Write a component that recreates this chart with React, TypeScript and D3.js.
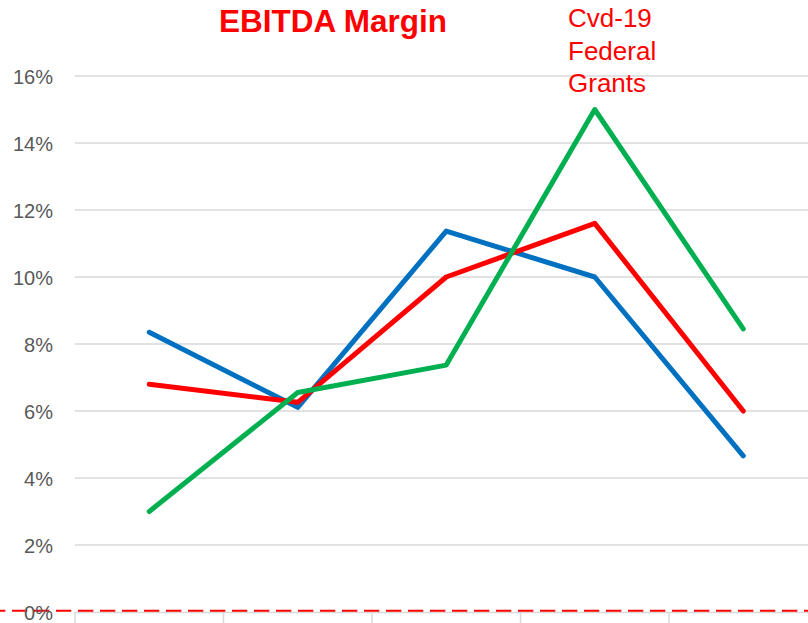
import React from "react"
import * as d3 from "d3"

// values (percent)
const periods = ["P1", "P2", "P3", "P4", "P5"]
const blueSeries = [8.35, 6.11, 11.37, 10.0, 4.66]
const redSeries = [6.8, 6.26, 10.0, 11.6, 6.0]
const greenSeries = [3.0, 6.55, 7.37, 15.0, 8.45]
const yTicks = [0, 2, 4, 6, 8, 10, 12, 14, 16]
const noteLines = ["Cvd-19", "Federal", "Grants"]

const W = 808
const H = 623

const App = () => {
  const x = d3.scaleBand().domain(periods).range([75, 817.5])
  const y = d3.scaleLinear().domain([0, 16]).range([612, 76])

  const line = d3
    .line<number>()
    .x((d, i) => (x(periods[i]) as number) + x.bandwidth() / 2)
    .y((d) => y(d))

  const series = [
    { vals: blueSeries, color: "#0070C0" },
    { vals: redSeries, color: "#FF0000" },
    { vals: greenSeries, color: "#00B050" },
  ]

  const font = "'Liberation Sans', Arial, sans-serif"

  return (
    <svg width={W} height={H} style={{ position: "absolute", left: 0, top: 0, background: "#fff" }}>
      {/* gridlines */}
      {yTicks.filter((t) => t > 0).map((t) => (
        <line key={t} x1={75} x2={W} y1={y(t)} y2={y(t)} stroke="#D9D9D9" strokeWidth={1.5} />
      ))}
      {/* category axis */}
      <line x1={75} x2={W} y1={y(0) + 0.5} y2={y(0) + 0.5} stroke="#D9D9D9" strokeWidth={1.5} />
      {periods.map((p) => (
        <line key={p} x1={x(p) as number} x2={x(p) as number} y1={y(0)} y2={y(0) + 14} stroke="#D9D9D9" strokeWidth={1.5} />
      ))}
      {/* zero reference dashed */}
      <line x1={-10} x2={W} y1={y(0) - 1.3} y2={y(0) - 1.3} stroke="#FF0000" strokeWidth={2} strokeDasharray="15.3 6.7" />
      {/* y labels */}
      {yTicks.map((t) => (
        <text key={t} x={53} y={y(t) + 7.5} textAnchor="end" fontFamily={font} fontSize={20} fill="#595959">
          {t + "%"}
        </text>
      ))}
      {/* series */}
      {series.map((s, i) => (
        <path key={i} d={line(s.vals) || ""} fill="none" stroke={s.color} strokeWidth={5} strokeLinecap="round" strokeLinejoin="round" />
      ))}
      {/* title */}
      <text x={333} y={32} textAnchor="middle" fontFamily={font} fontWeight="bold" fontSize={31.5} fill="#FF0000">
        EBITDA Margin
      </text>
      {/* annotation */}
      {noteLines.map((l, i) => (
        <text key={l} x={568} y={27.3 + i * 32.2} fontFamily={font} fontSize={26} fill="#FF0000">
          {l}
        </text>
      ))}
    </svg>
  )
}

export default App
